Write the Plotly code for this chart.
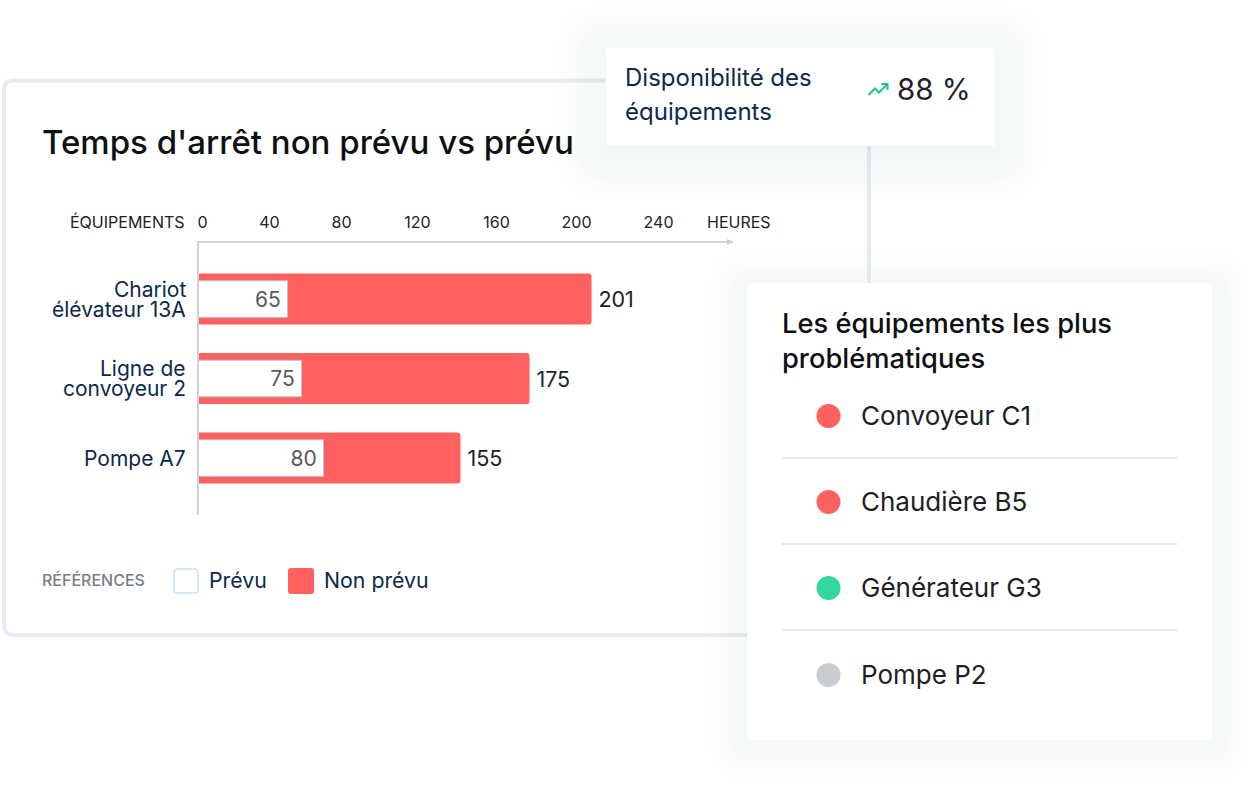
import plotly.graph_objects as go

W, H = 1248, 804

# ---------- data ----------
categories = ["Chariot<br>élévateur 13A", "Ligne de<br>convoyeur 2", "Pompe A7"]
planned_labels = [65, 75, 80]
unplanned_labels = [201, 175, 155]
# bar lengths as drawn in the picture (its scale is not proportional to the labels)
planned_drawn = [89, 103, 125]
unplanned_drawn = [393, 331, 262]
tick_labels = ["0", "40", "80", "120", "160", "200", "240"]
tick_drawn = [4, 71, 143, 219, 298, 378, 460]

issue_names = ["Convoyeur C1", "Chaudière B5", "Générateur G3", "Pompe P2"]
issue_colors = ["#ff6161", "#ff6161", "#33d6a0", "#c8cdd3"]

RED = "#ff6161"
NAVY = "#0b2a4a"
INK = "#1c2126"
FONT = "Inter"


def px(x):
    return x / W


def py(y):
    return 1 - y / H


def round_path(x0, y0, x1, y1, r):
    a, b, c, d = px(x0), py(y0), px(x1), py(y1)
    rx, ry = r / W, r / H
    return (f"M{a+rx},{b} L{c-rx},{b} Q{c},{b} {c},{b-ry} L{c},{d+ry} Q{c},{d} {c-rx},{d} "
            f"L{a+rx},{d} Q{a},{d} {a},{d+ry} L{a},{b-ry} Q{a},{b} {a+rx},{b} Z")


shapes = []


def card(x0, y0, x1, y1, r=4, fill="white", line=None, lw=0, layer="below"):
    shapes.append(dict(type="path", xref="paper", yref="paper", path=round_path(x0, y0, x1, y1, r),
                       fillcolor=fill, line=dict(color=line or "rgba(0,0,0,0)", width=lw), layer=layer))


def shadow(x0, y0, x1, y1, spread=48, dy=8, step=6):
    # one-level-at-a-time layers: a grey step, and every other layer a red-only step for the blue cast
    for k, g in enumerate(range(spread, 0, -step)):
        card(x0 - g, y0 - g + dy, x1 + g, y1 + g + dy, r=g + 4, fill="rgba(130,150,190,0.008)")
        if k % 2:
            card(x0 - g, y0 - g + dy, x1 + g, y1 + g + dy, r=g + 4, fill="rgba(0,255,255,0.004)")


def text(x, y, s, size, color=INK, anchor="left", weight=400):
    off = -1.5 if anchor == "left" else 1.5
    return dict(xref="paper", yref="paper", x=px(x + off), y=py(y), text=s, showarrow=False,
                xanchor=anchor, yanchor="middle", align=anchor, borderpad=0,
                font=dict(family=FONT, size=size, color=color, weight=weight))


# main card
card(4, 80.5, 869, 635, r=10, fill="white", line="#e8ecf2", lw=4)
# availability card
shadow(606, 48, 995, 146, spread=48, dy=6)
card(606, 48, 995, 146, r=3)
# issues card
shadow(747, 283, 1212, 740, spread=36, dy=4)
card(747, 283, 1212, 740, r=4)

# trend icon
shapes.append(dict(type="path", xref="paper", yref="paper", layer="below",
                   path=f"M{px(868.5)},{py(95)} L{px(875)},{py(88.5)} L{px(879)},{py(92.5)} L{px(887)},{py(84.5)}",
                   line=dict(color="#1fc48c", width=2), fillcolor="rgba(0,0,0,0)"))
shapes.append(dict(type="path", xref="paper", yref="paper", layer="below",
                   path=f"M{px(881.5)},{py(84)} L{px(887.5)},{py(84)} L{px(887.5)},{py(90)}",
                   line=dict(color="#1fc48c", width=2), fillcolor="rgba(0,0,0,0)"))

# axis arrow head
shapes.append(dict(type="path", xref="paper", yref="paper", layer="above",
                   path=f"M{px(727)},{py(239)} L{px(733)},{py(242)} L{px(727)},{py(245)} Z",
                   fillcolor="#c9cbcf", line=dict(width=0)))

# legend swatches
card(174, 569, 198, 593, r=3, fill="white", line="#a9d3e6", lw=1)
card(288, 568, 314, 594, r=3, fill=RED)

annotations = [
    text(42, 142, "Temps d'arrêt non prévu vs prévu", 33, "#0d1013", weight=500),
    text(184, 222, "ÉQUIPEMENTS", 16, INK, anchor="right"),
    text(707, 222, "HEURES", 16, INK),
    text(42, 580, "RÉFÉRENCES", 16, "#76808a", weight=500),
    text(209, 580, "Prévu", 21.3, NAVY),
    text(324, 580, "Non prévu", 21.3, NAVY),
    text(625, 78, "Disponibilité des", 24, NAVY),
    text(625, 111, "équipements", 24, NAVY),
    text(898, 89, "88 %", 29.5, INK),
    text(782, 323, "Les équipements les plus", 27.3, "#0d1013", weight=500),
    text(782, 358, "problématiques", 27.3, "#0d1013", weight=500),
]

# y-axis labels: tight two-line labels, placed through the category scale
for cat in categories:
    lines = cat.split("<br>")
    for i, line in enumerate(lines):
        annotations.append(dict(xref="paper", yref="y", x=px(187), y=cat, text=line, showarrow=False,
                                xanchor="right", yanchor="middle", borderpad=0,
                                yshift=(len(lines) - 1) * 10 - i * 20,
                                font=dict(family=FONT, size=21, color=NAVY)))

# issue list
row_y = [416, 502, 588, 675]
for i, (name, col) in enumerate(zip(issue_names, issue_colors)):
    y = row_y[i]
    shapes.append(dict(type="circle", xref="paper", yref="paper", layer="below",
                       x0=px(816.5), x1=px(840.5), y0=py(y - 12), y1=py(y + 12),
                       fillcolor=col, line=dict(width=0)))
    annotations.append(text(861, y - 0.5, name, 26, INK))
    if i < len(issue_names) - 1:
        shapes.append(dict(type="line", xref="paper", yref="paper", layer="below",
                           x0=px(782), x1=px(1177), y0=py(y + 42), y1=py(y + 42),
                           line=dict(color="#e4e6ea", width=2)))

fig = go.Figure()
fig.add_bar(y=categories, x=unplanned_drawn, orientation="h", width=0.64, name="Non prévu",
            marker=dict(color=RED, line=dict(width=0), cornerradius=3),
            text=unplanned_labels, texttemplate="\u2009%{text}", textposition="outside",
            cliponaxis=False, textangle=0,
            textfont=dict(family=FONT, size=21.5, color=INK))
fig.add_bar(y=categories, x=planned_drawn, orientation="h", width=0.46, name="Prévu",
            marker=dict(color="white", line=dict(color="#b4bfd8", width=1), cornerradius=2),
            text=planned_labels, texttemplate="%{text}\u2009", textposition="inside",
            insidetextanchor="end", textangle=0,
            textfont=dict(family=FONT, size=21, color="#555b60"))

fig.update_layout(
    width=W, height=H, margin=dict(l=0, r=0, t=0, b=0), autosize=False,
    paper_bgcolor="white", plot_bgcolor="rgba(0,0,0,0)", barmode="overlay", showlegend=False,
    shapes=shapes, annotations=annotations,
    font=dict(family=FONT),
    xaxis=dict(domain=[px(198.5), px(732.5)], range=[0, 534], side="top", anchor="y",
               tickmode="array", tickvals=tick_drawn, ticktext=tick_labels,
               tickfont=dict(family=FONT, size=16, color=INK),
               ticks="outside", ticklen=7, tickcolor="rgba(0,0,0,0)",
               showgrid=False, zeroline=False, showline=True, linecolor="#d0d2d6", linewidth=1.5),
    yaxis=dict(domain=[py(515), py(243)], range=[2.717, -0.705], type="category", anchor="x",
               categoryorder="array", categoryarray=categories,
               showticklabels=False, ticks="", showgrid=False, zeroline=False,
               showline=True, linecolor="#d0d2d6", linewidth=1.5),
)

fig.write_html("out.html", config={"displayModeBar": False},
               post_script="document.body.style.margin='0';document.documentElement.style.overflow='hidden';")
